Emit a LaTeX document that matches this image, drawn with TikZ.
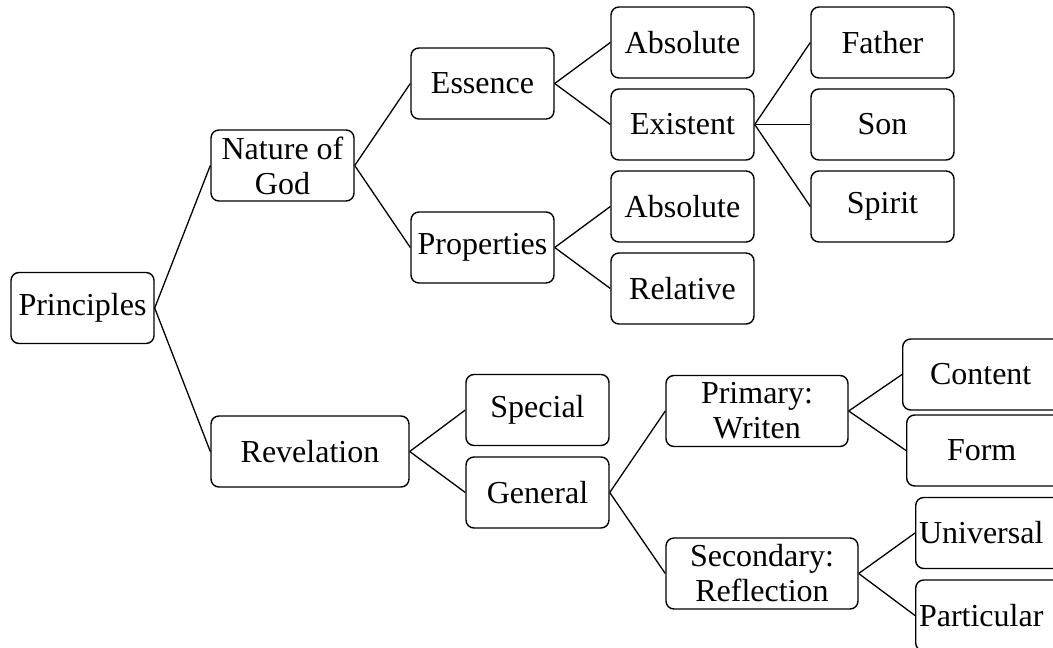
\documentclass[tikz,border=0pt]{standalone}
\usepackage{fontspec}
\setmainfont{Liberation Serif}
\begin{document}
\begin{tikzpicture}[x=1pt,y=-1pt,
  box/.style={draw=black, line width=1.4pt, rounded corners=8pt, fill=white,
    inner sep=0pt, minimum height=71pt, minimum width=143pt, align=center,
    font=\fontsize{32}{35}\selectfont},
  link/.style={draw=black, line width=1.3pt}]
\useasboundingbox (0,0) rectangle (1053,648);
\clip (0,0) rectangle (1053,648);
\fill[white] (0,0) rectangle (1053,648);
% nodes
\node[box] (pri) at (82.5,308) {Principles};
\node[box] (nog) at (282.5,165.5) {Nature of\\God};
\node[box] (ess) at (482.5,83.5) {Essence};
\node[box] (pro) at (482.5,247.5) {Properties};
\node[box] (ab1) at (682.5,42.5) {Absolute};
\node[box] (exi) at (682.5,124.5) {Existent};
\node[box] (ab2) at (682.5,206.5) {Absolute};
\node[box] (rel) at (682.5,288.5) {Relative};
\node[box] (fat) at (882.5,42.5) {Father};
\node[box] (son) at (882.5,124.5) {Son};
\node[box] (spi) at (882.5,206.5) {Spirit};
\node[box, minimum width=198pt] (rev) at (310,451.5) {Revelation};
\node[box] (spe) at (537.5,410) {Special};
\node[box] (gen) at (537.5,492.5) {General};
\node[box, minimum width=182pt] (prm) at (757,411) {Primary:\\Writen};
\node[box, minimum width=192pt] (sec) at (762,573.5) {Secondary:\\Reflection};
\node[box, minimum width=170pt, anchor=west] (con) at (902,374.5) {\hspace*{-14pt}Content};
\node[box, minimum width=170pt, anchor=west] (frm) at (906,450.5) {\hspace*{-20pt}Form};
\node[box, minimum width=170pt, anchor=west] (uni) at (915,533) {\hspace*{-39pt}Universal};
\node[box, minimum width=170pt, anchor=west] (par) at (915,615.5) {\hspace*{-39pt}Particular};
% connectors
\draw[link] (pri.east) -- (nog.west);
\draw[link] (pri.east) -- (rev.west);
\draw[link] (nog.east) -- (ess.west);
\draw[link] (nog.east) -- (pro.west);
\draw[link] (ess.east) -- (ab1.west);
\draw[link] (ess.east) -- (exi.west);
\draw[link] (pro.east) -- (ab2.west);
\draw[link] (pro.east) -- (rel.west);
\draw[link] (exi.east) -- (fat.west);
\draw[link] (exi.east) -- (son.west);
\draw[link] (exi.east) -- (spi.west);
\draw[link] (rev.east) -- (spe.west);
\draw[link] (rev.east) -- (gen.west);
\draw[link] (gen.east) -- (prm.west);
\draw[link] (gen.east) -- (sec.west);
\draw[link] (prm.east) -- (con.west);
\draw[link] (prm.east) -- (frm.west);
\draw[link] (sec.east) -- (uni.west);
\draw[link] (sec.east) -- (par.west);
\end{tikzpicture}
\end{document}
